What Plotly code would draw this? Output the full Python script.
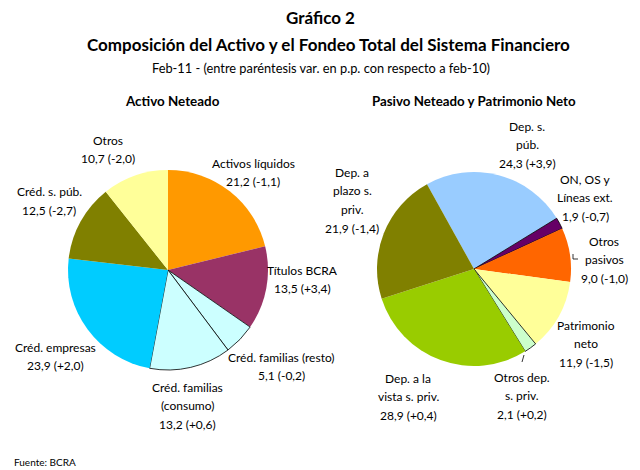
import plotly.graph_objects as go

W, H = 640, 470
FONT = "Lato"

# ---- data: Activo Neteado ----
act_names = ["Activos líquidos", "Títulos BCRA", "Créd. familias (resto)",
             "Créd. familias (consumo)", "Créd. empresas", "Créd. s. púb.", "Otros"]
act_values = [21.2, 13.5, 5.1, 13.2, 23.9, 12.5, 10.7]
act_changes = [-1.1, 3.4, -0.2, 0.6, 2.0, -2.7, -2.0]
act_colors = ["#FF9900", "#993366", "#CCFFFF", "#CCFFFF", "#00CCFF", "#808000", "#FFFF99"]
act_label_lines = [["Activos líquidos"], ["Títulos BCRA"], ["Créd. familias (resto)"],
                   ["Créd. familias", "(consumo)"], ["Créd. empresas"], ["Créd. s. púb."], ["Otros"]]

# ---- data: Pasivo Neteado y Patrimonio Neto ----
pas_names = ["Dep. s. púb.", "ON, OS y Líneas ext.", "Otros pasivos", "Patrimonio neto",
             "Otros dep. s. priv.", "Dep. a la vista s. priv.", "Dep. a plazo s. priv."]
pas_values = [24.3, 1.9, 9.0, 11.9, 2.1, 28.9, 21.9]
pas_changes = [3.9, -0.7, -1.0, -1.5, 0.2, 0.4, -1.4]
pas_colors = ["#99CCFF", "#660066", "#FF6600", "#FFFF99", "#CCFFCC", "#99CC00", "#808000"]
pas_label_lines = [["Dep. s.", "púb."], ["ON, OS y", "Líneas ext."], ["Otros", "pasivos"],
                   ["Patrimonio", "neto"], ["Otros dep.", "s. priv."], ["Dep. a la", "vista s. priv."],
                   ["Dep. a", "plazo s.", "priv."]]

# label anchor (pixel) positions: center x, y of first line
act_label_pos = [(253, 163), (302, 270), (281, 357), (187, 387), (55, 347), (49, 192), (108, 140)]
pas_label_pos = [(527, 126), (585, 179), (604, 241), (586, 325), (522, 377), (408, 378), (352, 172)]
LINE_STEP = 18.8


def fmt(v, c):
    vs = f"{v:.1f}".replace(".", ",")
    cs = f"{c:+.1f}".replace(".", ",")
    return f"{vs} ({cs})"


def px(x, y):
    return x / W, 1 - y / H


fig = go.Figure()

fig.add_trace(go.Pie(
    labels=act_names, values=act_values, sort=False, direction="clockwise", rotation=0,
    marker=dict(colors=act_colors,
                line=dict(color="black", width=[0, 0, 0.8, 0.8, 0, 0, 0])),
    textinfo="none", hoverinfo="label+value", showlegend=False,
    domain=dict(x=[68 / W, 268 / W], y=[1 - 370 / H, 1 - 170 / H]),
))

fig.add_trace(go.Pie(
    labels=pas_names, values=pas_values, sort=False, direction="clockwise", rotation=-29,
    marker=dict(colors=pas_colors,
                line=dict(color="black", width=[0, 0.8, 0, 0, 0.8, 0, 0])),
    textinfo="none", hoverinfo="label+value", showlegend=False,
    domain=dict(x=[377 / W, 571 / W], y=[1 - 366 / H, 1 - 172 / H]),
))

annotations = []


def add_text(x, y, text, size=12, bold=False, xanchor="center"):
    xp, yp = px(x, y)
    annotations.append(dict(
        x=xp, y=yp, xref="paper", yref="paper", text=(f"<b>{text}</b>" if bold else text),
        showarrow=False, xanchor=xanchor, yanchor="middle",
        font=dict(family=FONT, size=size, color="black")))


for lines, v, c, (x, y) in zip(act_label_lines, act_values, act_changes, act_label_pos):
    allines = lines + [fmt(v, c)]
    for i, t in enumerate(allines):
        add_text(x, y + i * LINE_STEP, t)

for lines, v, c, (x, y) in zip(pas_label_lines, pas_values, pas_changes, pas_label_pos):
    allines = lines + [fmt(v, c)]
    for i, t in enumerate(allines):
        add_text(x, y + i * LINE_STEP, t)

# titles
add_text(320, 18, "Gráfico 2", size=17, bold=True)
add_text(328, 45, "Composición del Activo y el Fondeo Total del Sistema Financiero", size=17, bold=True)
add_text(321, 68, "Feb-11 - (entre paréntesis var. en p.p. con respecto a feb-10)", size=12.8)
add_text(172, 101, "Activo Neteado", size=13.4, bold=True)
add_text(474, 101, "Pasivo Neteado y Patrimonio Neto", size=13.3, bold=True)
add_text(12, 462, "Fuente: BCRA", size=10, xanchor="left")

# leader lines
shapes = []
for (x0, y0, x1, y1) in [(573, 254, 573, 259), (573, 259, 578, 259), (524, 355, 522, 362)]:
    a0, b0 = px(x0, y0)
    a1, b1 = px(x1, y1)
    shapes.append(dict(type="line", xref="paper", yref="paper", x0=a0, y0=b0, x1=a1, y1=b1,
                       line=dict(color="black", width=0.8)))

fig.update_layout(
    width=W, height=H, autosize=False,
    margin=dict(l=0, r=0, t=0, b=0),
    paper_bgcolor="white", plot_bgcolor="white",
    annotations=annotations, shapes=shapes,
    font=dict(family=FONT),
)

fig.write_html("out.html", config={"displayModeBar": False},
               post_script="document.body.style.margin='0';document.body.style.overflow='hidden';")
